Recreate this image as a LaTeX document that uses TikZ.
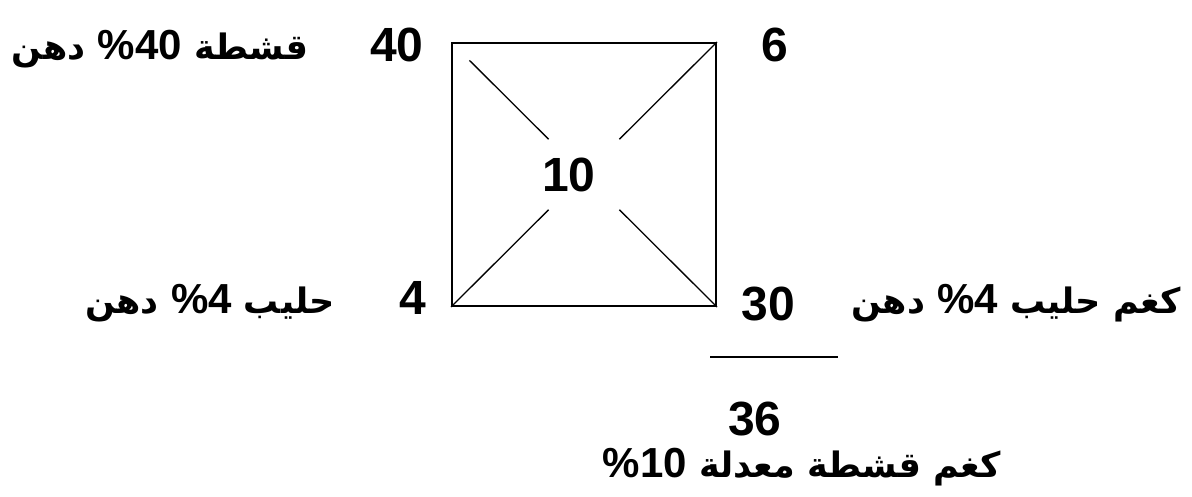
\documentclass[tikz,border=0pt]{standalone}
\usepackage{fontspec}
\setmainfont{Liberation Sans}
\newfontfamily\arabicfont[Script=Arabic]{DejaVu Sans}
\TeXXeTstate=1
\newcommand\pcnt[1]{\beginL{\rmfamily\bfseries\fontsize{42}{48}\selectfont\%#1}\endL{}}

\begin{document}
\begin{tikzpicture}[x=1pt, y=-1pt,
  num/.style={font=\fontsize{48}{56}\selectfont\bfseries, inner sep=0pt},
  lbl/.style={font=\fontsize{35}{42}\selectfont\bfseries\arabicfont, inner sep=0pt},
  diag/.style={line width=1.3pt, shorten >=50pt}]
\useasboundingbox (0,0) rectangle (1192,497);
% the square and its number
\node[draw, line width=2pt, minimum width=264pt, minimum height=263pt, inner sep=0pt] (sq) at (584,174.5) {};
\node[num] (mid) at (569,175) {10};
\draw[diag, shorten <=26pt] (sq.north west) -- (sq.center);
\draw[diag] (sq.north east) -- (sq.center);
\draw[diag] (sq.south west) -- (sq.center);
\draw[diag] (sq.south east) -- (sq.center);
% corner numbers
\node[num] (cream) at (397,45) {40};
\node[num] (skim) at (775,45) {6};
\node[num] (milk) at (413,298) {4};
\node[num] (diff) at (768,304) {30};
\node[num] (total) at (755,419) {36};
% labels
\node[lbl] (creamtxt) at (160,49) {\beginR قشطة \pcnt{40} دهن\endR};
\node[lbl] (milktxt) at (210,303) {\beginR حليب \pcnt{4} دهن\endR};
\node[lbl] (milkkg) at (1016,303) {\beginR كغم حليب \pcnt{4} دهن\endR};
\node[lbl] (mixkg) at (802,467) {\beginR كغم قشطة معدلة \pcnt{10}\endR};
% sum bar
\coordinate (barL) at (710,357);
\coordinate (barR) at (838,357);
\draw[line width=1.3pt] (barL) -- (barR);
\end{tikzpicture}
\end{document}
